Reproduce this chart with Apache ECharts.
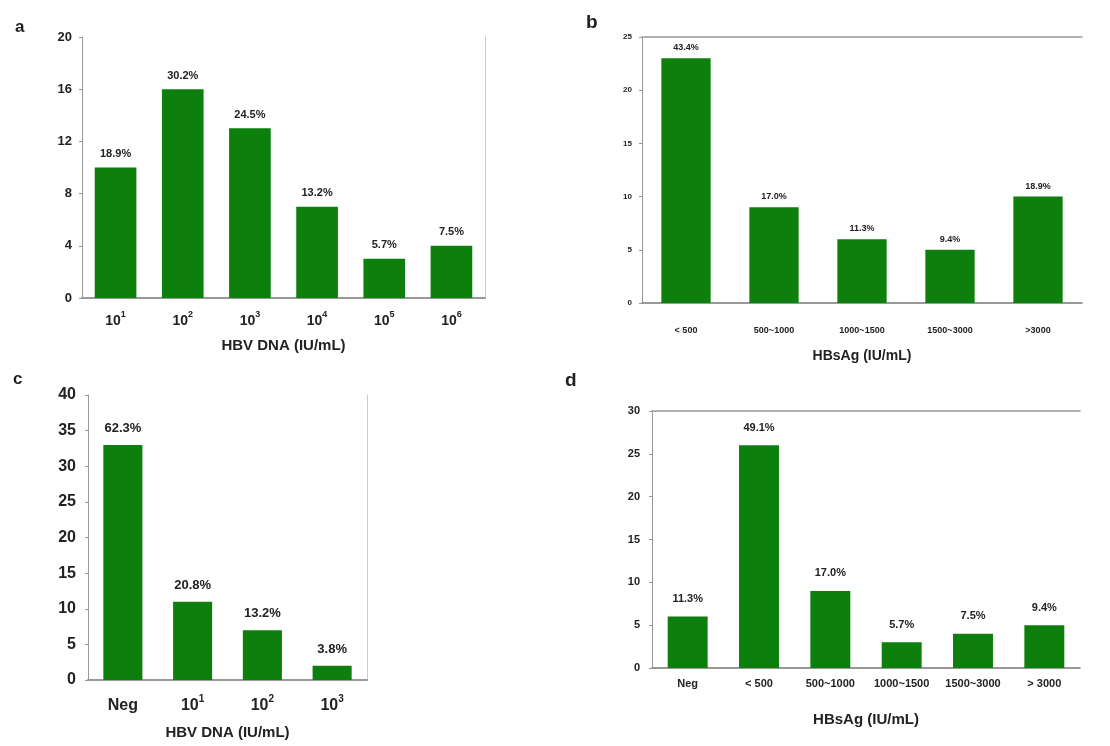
<!DOCTYPE html>
<html><head><meta charset="utf-8">
<script src="https://cdn.jsdelivr.net/npm/echarts@6/dist/echarts.min.js"></script>
<style>html,body{margin:0;padding:0;background:#fff}#c{width:1110px;height:746px}</style>
</head><body><div id="c"></div>
<script>
// Panel a: HBV DNA (IU/mL)  ('10^1' = 10 to the power 1)
const catsA = ['10^1','10^2','10^3','10^4','10^5','10^6'];
const valsA = [10, 16, 13, 7, 3, 4];
const pctA = ['18.9%','30.2%','24.5%','13.2%','5.7%','7.5%'];
// Panel b: HBsAg (IU/mL)
const catsB = ['< 500','500~1000','1000~1500','1500~3000','>3000'];
const valsB = [23, 9, 6, 5, 10];
const pctB = ['43.4%','17.0%','11.3%','9.4%','18.9%'];
// Panel c: HBV DNA (IU/mL)
const catsC = ['Neg','10^1','10^2','10^3'];
const valsC = [33, 11, 7, 2];
const pctC = ['62.3%','20.8%','13.2%','3.8%'];
// Panel d: HBsAg (IU/mL)
const catsD = ['Neg','< 500','500~1000','1000~1500','1500~3000','> 3000'];
const valsD = [6, 26, 9, 3, 4, 5];
const pctD = ['11.3%','49.1%','17.0%','5.7%','7.5%','9.4%'];
// axis ticks
const yA = {max: 20, interval: 4};
const yB = {max: 25, interval: 5};
const yC = {max: 40, interval: 5};
const yD = {max: 30, interval: 5};

const GREEN = '#0c7f0c';
const FONT = 'Liberation Sans, Arial, sans-serif';
const chart = echarts.init(document.getElementById('c'));

const grids = [
  {left: 82, top: 37, width: 403, height: 261},
  {left: 642, top: 37, width: 440, height: 266},
  {left: 88, top: 395, width: 279, height: 285},
  {left: 652, top: 411, width: 428, height: 257}
];
const panels = [
  {cats: catsA, vals: valsA, pct: pctA, y: yA, name: 'HBV DNA (IU/mL)', tick: 13, cat: 14, lab: 11, nameSize: 15, nameGap: 40, catMargin: 12, yMargin: 10, labDist: 8, bw: '62%', border: true},
  {cats: catsB, vals: valsB, pct: pctB, y: yB, name: 'HBsAg (IU/mL)', tick: 8, cat: 9, lab: 9, nameSize: 14, nameGap: 46, catMargin: 19, yMargin: 10, labDist: 6, bw: '56%', border: false},
  {cats: catsC, vals: valsC, pct: pctC, y: yC, name: 'HBV DNA (IU/mL)', tick: 16, cat: 16, lab: 13, nameSize: 15, nameGap: 45, catMargin: 14, yMargin: 12, labDist: 10, bw: '56%', border: true},
  {cats: catsD, vals: valsD, pct: pctD, y: yD, name: 'HBsAg (IU/mL)', tick: 11, cat: 11, lab: 11, nameSize: 15, nameGap: 44, catMargin: 6, yMargin: 12, labDist: 12, bw: '56%', border: false}
];

const xAxis = [], yAxis = [], series = [];
panels.forEach((p, i) => {
  const supSize = Math.round(p.cat * 0.65);
  xAxis.push({
    type: 'category', gridIndex: i, data: p.cats,
    name: p.name, nameLocation: 'middle', nameGap: p.nameGap,
    nameTextStyle: {fontSize: p.nameSize, fontWeight: 'bold', color: '#222', fontFamily: FONT},
    axisLine: {lineStyle: {color: '#777', width: 1.5}},
    axisTick: {show: false},
    axisLabel: {
      fontSize: p.cat, fontWeight: 'bold', color: '#222', margin: p.catMargin, fontFamily: FONT, interval: 0,
      formatter: (v) => {
        const m = /^(\d+)\^(\d+)$/.exec(v);
        return m ? '{b|' + m[1] + '}{s|' + m[2] + '}' : '{b|' + v + '}';
      },
      rich: {
        b: {fontSize: p.cat, fontWeight: 'bold', color: '#222', fontFamily: FONT, lineHeight: p.cat + 4, verticalAlign: 'bottom'},
        s: {fontSize: supSize, fontWeight: 'bold', color: '#222', fontFamily: FONT, verticalAlign: 'top', lineHeight: supSize + 2}
      }
    }
  });
  // top frame line
  xAxis.push({
    type: 'category', gridIndex: i, position: 'top', data: p.cats,
    axisLine: {lineStyle: {color: '#999', width: 1.5}},
    axisTick: {show: false}, axisLabel: {show: false}
  });
  yAxis.push({
    type: 'value', gridIndex: i, min: 0, max: p.y.max, interval: p.y.interval,
    axisLine: {show: true, lineStyle: {color: '#999', width: 1}},
    axisTick: {show: true, length: 3, lineStyle: {color: '#999'}},
    splitLine: {show: false},
    axisLabel: {fontSize: p.tick, fontWeight: 'bold', color: '#222', margin: p.yMargin, fontFamily: FONT}
  });
  if (p.border) {
    yAxis.push({
      type: 'value', gridIndex: i, position: 'right', min: 0, max: p.y.max, interval: p.y.interval,
      axisLine: {show: true, lineStyle: {color: '#ccc', width: 1}},
      axisTick: {show: false}, splitLine: {show: false}, axisLabel: {show: false}
    });
  }
  series.push({
    type: 'bar', xAxisIndex: 2 * i, yAxisIndex: yAxis.length - (p.border ? 2 : 1),
    data: p.vals, barWidth: p.bw,
    itemStyle: {color: GREEN},
    label: {show: true, position: 'top', distance: p.labDist, fontSize: p.lab, fontWeight: 'bold', color: '#222', fontFamily: FONT,
      formatter: (d) => p.pct[d.dataIndex]}
  });
});

chart.setOption({
  animation: false,
  backgroundColor: '#fff',
  grid: grids,
  xAxis: xAxis,
  yAxis: yAxis,
  series: series,
  title: [
    {text: 'a', left: 10, top: 14, textStyle: {fontSize: 17, fontWeight: 'bold', color: '#222', fontFamily: FONT}},
    {text: 'b', left: 581, top: 8, textStyle: {fontSize: 19, fontWeight: 'bold', color: '#222', fontFamily: FONT}},
    {text: 'c', left: 8, top: 366, textStyle: {fontSize: 17, fontWeight: 'bold', color: '#222', fontFamily: FONT}},
    {text: 'd', left: 560, top: 366, textStyle: {fontSize: 19, fontWeight: 'bold', color: '#222', fontFamily: FONT}}
  ]
});
</script>
</body></html>
